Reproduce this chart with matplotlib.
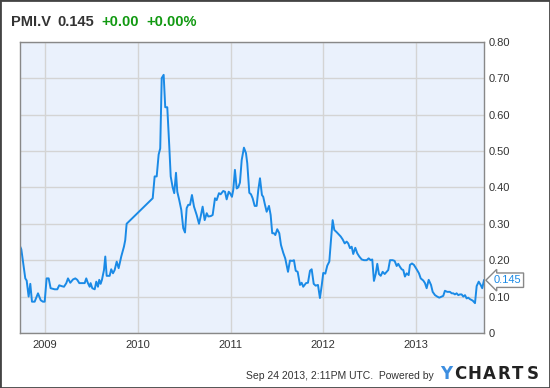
import numpy as np
import matplotlib.pyplot as plt
from matplotlib.patches import Rectangle

plt.rcParams['font.family'] = ['Liberation Sans', 'DejaVu Sans']

# PMI.V closing price, time in decimal years
years = [
    2008.730, 2008.745, 2008.788, 2008.803, 2008.824, 2008.842, 2008.860, 2008.889,
    2008.925, 2008.954, 2008.978, 2008.997, 2009.018, 2009.040, 2009.061, 2009.105,
    2009.133, 2009.154, 2009.176, 2009.205, 2009.230, 2009.248, 2009.273, 2009.302,
    2009.327, 2009.348, 2009.370, 2009.410, 2009.428, 2009.445, 2009.463, 2009.482,
    2009.492, 2009.510, 2009.536, 2009.553, 2009.571, 2009.585, 2009.600, 2009.614,
    2009.636, 2009.650, 2009.665, 2009.697, 2009.714, 2009.733, 2009.751, 2009.773,
    2009.794, 2009.822, 2009.851, 2009.865, 2009.880, 2010.161, 2010.182, 2010.204,
    2010.225, 2010.242, 2010.258, 2010.279, 2010.296, 2010.318, 2010.339, 2010.355,
    2010.376, 2010.393, 2010.412, 2010.426, 2010.447, 2010.469, 2010.490, 2010.509,
    2010.527, 2010.544, 2010.563, 2010.584, 2010.606, 2010.635, 2010.660, 2010.678,
    2010.699, 2010.721, 2010.743, 2010.760, 2010.786, 2010.807, 2010.832, 2010.850,
    2010.875, 2010.893, 2010.921, 2010.940, 2010.958, 2010.980, 2010.994, 2011.015,
    2011.029, 2011.047, 2011.066, 2011.083, 2011.101, 2011.120, 2011.144, 2011.166,
    2011.180, 2011.202, 2011.220, 2011.238, 2011.260, 2011.281, 2011.299, 2011.317,
    2011.338, 2011.352, 2011.371, 2011.389, 2011.414, 2011.432, 2011.449, 2011.468,
    2011.482, 2011.503, 2011.525, 2011.543, 2011.568, 2011.589, 2011.619, 2011.640,
    2011.665, 2011.683, 2011.702, 2011.723, 2011.748, 2011.766, 2011.783, 2011.813,
    2011.834, 2011.856, 2011.874, 2011.896, 2011.917, 2011.942, 2011.963, 2011.982,
    2011.999, 2012.021, 2012.042, 2012.064, 2012.082, 2012.100, 2012.118, 2012.143,
    2012.165, 2012.187, 2012.208, 2012.230, 2012.251, 2012.268, 2012.287, 2012.305,
    2012.322, 2012.344, 2012.365, 2012.387, 2012.413, 2012.438, 2012.467, 2012.488,
    2012.510, 2012.527, 2012.545, 2012.564, 2012.581, 2012.599, 2012.618, 2012.639,
    2012.661, 2012.682, 2012.699, 2012.718, 2012.747, 2012.768, 2012.790, 2012.807,
    2012.825, 2012.844, 2012.861, 2012.879, 2012.898, 2012.919, 2012.933, 2012.955,
    2012.976, 2013.005, 2013.030, 2013.049, 2013.077, 2013.095, 2013.113, 2013.135,
    2013.160, 2013.178, 2013.203, 2013.227, 2013.249, 2013.275, 2013.292, 2013.310,
    2013.335, 2013.364, 2013.383, 2013.400, 2013.418, 2013.436, 2013.454, 2013.472,
    2013.490, 2013.508, 2013.526, 2013.544, 2013.561, 2013.580, 2013.609, 2013.634,
    2013.652, 2013.674, 2013.695, 2013.712, 2013.731,
]
prices = [
    0.239, 0.230, 0.150, 0.144, 0.100, 0.135, 0.086, 0.086,
    0.109, 0.090, 0.086, 0.086, 0.150, 0.150, 0.123, 0.120,
    0.120, 0.131, 0.129, 0.127, 0.137, 0.150, 0.138, 0.147,
    0.150, 0.146, 0.137, 0.137, 0.137, 0.150, 0.137, 0.127,
    0.137, 0.123, 0.120, 0.141, 0.127, 0.146, 0.135, 0.146,
    0.173, 0.210, 0.157, 0.157, 0.175, 0.164, 0.173, 0.196,
    0.178, 0.210, 0.237, 0.255, 0.300, 0.370, 0.430, 0.430,
    0.490, 0.507, 0.700, 0.709, 0.620, 0.620, 0.516, 0.430,
    0.400, 0.384, 0.440, 0.388, 0.365, 0.338, 0.288, 0.276,
    0.343, 0.352, 0.352, 0.379, 0.347, 0.324, 0.300, 0.320,
    0.347, 0.310, 0.329, 0.320, 0.321, 0.324, 0.370, 0.365,
    0.384, 0.381, 0.390, 0.388, 0.367, 0.388, 0.384, 0.374,
    0.393, 0.448, 0.397, 0.400, 0.413, 0.475, 0.509, 0.494,
    0.466, 0.385, 0.381, 0.370, 0.349, 0.349, 0.393, 0.425,
    0.379, 0.374, 0.352, 0.333, 0.349, 0.324, 0.274, 0.274,
    0.269, 0.285, 0.274, 0.242, 0.220, 0.205, 0.168, 0.199,
    0.198, 0.200, 0.171, 0.168, 0.132, 0.138, 0.127, 0.137,
    0.138, 0.171, 0.175, 0.135, 0.130, 0.132, 0.096, 0.130,
    0.165, 0.163, 0.185, 0.196, 0.255, 0.310, 0.283, 0.277,
    0.271, 0.265, 0.257, 0.246, 0.251, 0.246, 0.233, 0.237,
    0.217, 0.234, 0.219, 0.210, 0.202, 0.200, 0.200, 0.205,
    0.200, 0.202, 0.143, 0.162, 0.190, 0.162, 0.157, 0.168,
    0.162, 0.168, 0.173, 0.200, 0.200, 0.198, 0.184, 0.190,
    0.182, 0.175, 0.173, 0.155, 0.164, 0.159, 0.187, 0.191,
    0.187, 0.175, 0.164, 0.150, 0.144, 0.137, 0.123, 0.146,
    0.132, 0.113, 0.104, 0.100, 0.097, 0.100, 0.102, 0.116,
    0.113, 0.113, 0.109, 0.109, 0.106, 0.109, 0.104, 0.106,
    0.106, 0.100, 0.104, 0.095, 0.097, 0.093, 0.089, 0.082,
    0.129, 0.141, 0.132, 0.123, 0.145,
]
year_ticks = [2009, 2010, 2011, 2012, 2013]
price_ticks = [0, 0.10, 0.20, 0.30, 0.40, 0.50, 0.60, 0.70, 0.80]
price_labels = ['0', '0.10', '0.20', '0.30', '0.40', '0.50', '0.60', '0.70', '0.80']
last_price = '0.145'

line_col = '#1a8ae6'
text_col = '#333333'
green = '#119911'

fig = plt.figure(figsize=(5.5, 3.88), dpi=100)
ax = fig.add_axes([20 / 550, 55 / 388, 464 / 550, 291.3 / 388])
ax.set_facecolor('#eaf1fc')

ax.plot(years, prices, color=line_col, lw=1.4, solid_joinstyle='round')

ax.set_xlim(2008.731, 2013.731)
ax.set_ylim(0, 0.80)
ax.set_xticks(year_ticks)
ax.set_xticklabels([str(y) for y in year_ticks])
ax.set_yticks(price_ticks)
ax.set_yticklabels(price_labels)
ax.yaxis.tick_right()
ax.tick_params(length=0, labelsize=8, colors=text_col)
ax.tick_params(axis='y', pad=3)
ax.tick_params(axis='x', pad=5)
ax.grid(True, color='#d4d4d4', lw=1)
for s in ax.spines.values():
    s.set_color('#888888')
    s.set_linewidth(1)

# last price tag
ax.annotate(last_price, xy=(years[-1], prices[-1]), xytext=(7, 0),
            textcoords='offset points', va='center', ha='left',
            fontsize=8, color=line_col, annotation_clip=False,
            bbox=dict(boxstyle='larrow,pad=0.2', fc='white', ec='#888888', lw=1))

# header
hy = 1 - 26 / 388
fig.text(10.7 / 550, hy, 'PMI.V', fontsize=10.5, fontweight='bold', color=text_col, va='baseline')
fig.text(57.3 / 550, hy, '0.145', fontsize=10.5, fontweight='bold', color=text_col, va='baseline')
fig.text(101.7 / 550, hy, '+0.00', fontsize=10.5, fontweight='bold', color=green, va='baseline')
fig.text(146.7 / 550, hy, '+0.00%', fontsize=10.5, fontweight='bold', color=green, va='baseline')

# footer
fy = 1 - 379 / 388
fig.text(434 / 550, fy, 'Sep 24 2013, 2:11PM UTC.  Powered by', fontsize=7.5,
         color=text_col, ha='right', va='baseline')
logo = 'YCHARTS'
for i, ch in enumerate(logo):
    fig.text((446 + i * 14.4) / 550, fy, ch, fontsize=12, fontweight='bold',
             family='DejaVu Sans',
             color='#3d8ee0' if i == 0 else '#222222', ha='center', va='baseline')

fig.patches.append(Rectangle((0, 0), 1, 1, transform=fig.transFigure, fill=False,
                             ec='#444444', lw=2))

fig.savefig('out.png', dpi=100)
